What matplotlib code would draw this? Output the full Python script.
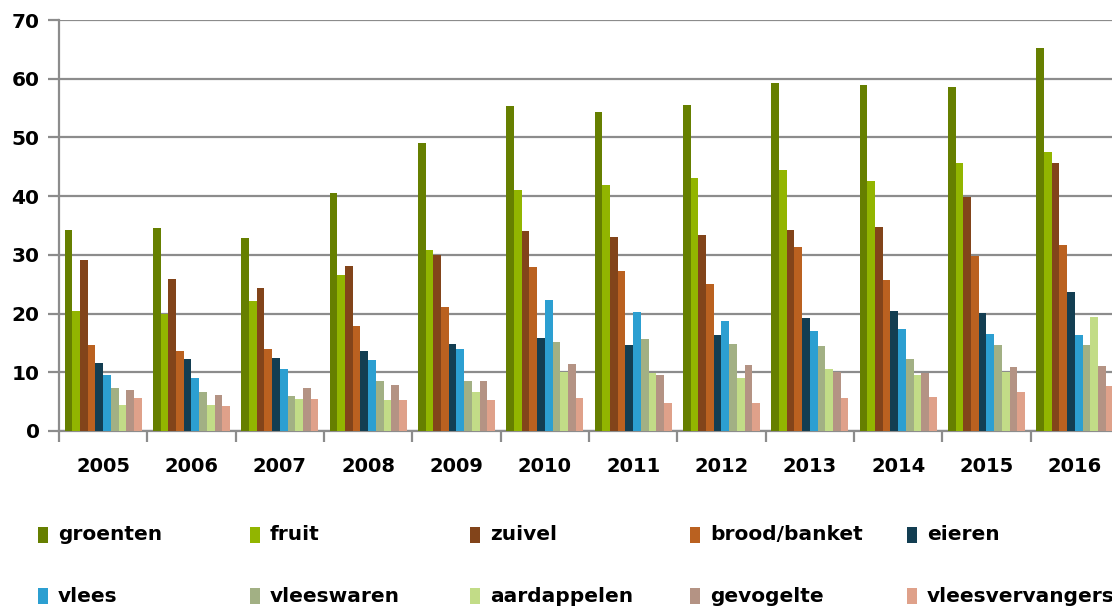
import matplotlib
matplotlib.use("Agg")
import matplotlib.pyplot as plt
from matplotlib.patches import Rectangle
import numpy as np

years = ["2005", "2006", "2007", "2008", "2009", "2010", "2011", "2012", "2013", "2014", "2015", "2016"]
series_names = ["groenten", "fruit", "zuivel", "brood/banket", "eieren",
                "vlees", "vleeswaren", "aardappelen", "gevogelte", "vleesvervangers"]
colors = ["#667F00", "#92B500", "#82441A", "#BA6120", "#133E52",
          "#2C9FD1", "#A2B084", "#C2DC87", "#B49384", "#DFA18A"]

groenten = [34.2, 34.5, 32.9, 40.5, 49.1, 55.4, 54.3, 55.5, 59.2, 59.0, 58.6, 65.3]
fruit = [20.4, 20.0, 22.2, 26.6, 30.9, 41.0, 41.9, 43.1, 44.4, 42.6, 45.6, 47.6]
zuivel = [29.1, 25.9, 24.3, 28.1, 29.9, 34.0, 33.0, 33.4, 34.2, 34.7, 39.8, 45.6]
brood_banket = [14.7, 13.7, 14.0, 17.8, 21.1, 27.9, 27.2, 25.0, 31.3, 25.8, 29.8, 31.6]
eieren = [11.5, 12.3, 12.4, 13.6, 14.9, 15.8, 14.7, 16.4, 19.2, 20.5, 20.1, 23.7]
vlees = [9.6, 9.0, 10.5, 12.1, 14.0, 22.3, 20.3, 18.8, 17.0, 17.3, 16.5, 16.4]
vleeswaren = [7.3, 6.6, 6.0, 8.5, 8.5, 15.1, 15.7, 14.9, 14.5, 12.2, 14.6, 14.7]
aardappelen = [4.4, 4.4, 5.5, 5.3, 6.7, 10.1, 9.8, 9.1, 10.5, 9.6, 10.1, 19.5]
gevogelte = [6.9, 6.1, 7.3, 7.9, 8.5, 11.4, 9.6, 11.2, 10.1, 9.8, 10.9, 11.1]
vleesvervangers = [5.7, 4.3, 5.4, 5.3, 5.2, 5.6, 4.8, 4.8, 5.6, 5.8, 6.6, 7.7]

series = [groenten, fruit, zuivel, brood_banket, eieren,
          vlees, vleeswaren, aardappelen, gevogelte, vleesvervangers]

plt.rcParams['font.family'] = ['DejaVu Sans']

W, H = 1112, 609
fig = plt.figure(figsize=(W/100, H/100), dpi=100)
ax = fig.add_axes([59/W, 1-431/H, 1060/W, 411/H])

n = len(series)
w = 1/11.5
x = np.arange(len(years))
for j, (vals, c) in enumerate(zip(series, colors)):
    ax.bar(x + (j - (n-1)/2)*w, vals, width=w, color=c, edgecolor='none', zorder=3)

ax.set_xlim(-0.5, len(years)-0.5)
ax.set_ylim(0, 70)
ax.set_yticks(range(0, 71, 10))
ax.yaxis.grid(True, color='#8c8c8c', linewidth=1.6, zorder=0)
ax.set_axisbelow(True)
for s in ['top', 'right']:
    ax.spines[s].set_visible(False)
for s in ['left', 'bottom']:
    ax.spines[s].set_color('#8c8c8c')
    ax.spines[s].set_linewidth(1.6)

ax.set_xticks(x)
ax.set_xticklabels(years, fontsize=14, fontweight='bold')
ax.tick_params(axis='x', which='major', length=0, pad=19)
ax.set_xticks(np.arange(-0.5, len(years)), minor=True)
ax.tick_params(axis='x', which='minor', length=8, width=1.6, color='#8c8c8c', direction='out')
ax.tick_params(axis='y', length=8, width=1.6, color='#8c8c8c', labelsize=14.5, pad=6)
for t in ax.get_yticklabels():
    t.set_fontweight('bold')

# legend: two rows of five
col_x = [38, 250, 470, 690, 907]
row_y = [535, 596]
for i, (name, c) in enumerate(zip(series_names, colors)):
    r, k = divmod(i, 5)
    mx, my = col_x[k], row_y[r]
    fig.add_artist(Rectangle((mx/W, 1-(my+8)/H), 10/W, 16/H, transform=fig.transFigure,
                             facecolor=c, edgecolor='none'))
    fig.text((mx+20)/W, 1-my/H, name, fontsize=14.5, fontweight='bold',
             ha='left', va='center')

fig.savefig("out.png", dpi=100)
